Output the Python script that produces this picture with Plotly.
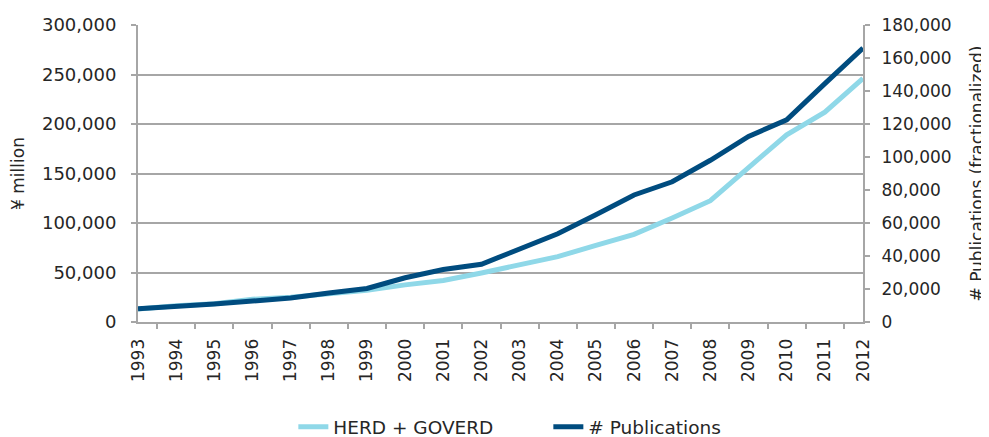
import plotly.graph_objects as go

years = [str(y) for y in range(1993, 2013)]
herd_goverd = [13000, 16500, 18500, 23000, 25000, 28000, 32000, 37500, 42000, 49500,
               57500, 66000, 77500, 88500, 105000, 122500, 156000, 189000, 212000, 246000]
publications = [8000, 9200, 10900, 12700, 14500, 17600, 20300, 26800, 31800, 35000,
                44000, 53500, 65000, 77000, 85000, 98000, 112500, 122500, 144500, 166000]

left_ticks = [0, 50000, 100000, 150000, 200000, 250000, 300000]
right_ticks = list(range(0, 180001, 20000))

font_family = "DejaVu Sans, sans-serif"
grid_col = "#a6a6a6"
text_col = "#262626"

fig = go.Figure()
fig.add_trace(go.Scatter(x=years, y=herd_goverd, name="HERD + GOVERD", mode="lines",
                         line=dict(color="#8fd8e8", width=5), yaxis="y"))
fig.add_trace(go.Scatter(x=years, y=publications, name="# Publications", mode="lines",
                         line=dict(color="#004c7f", width=5), yaxis="y2"))

fig.update_layout(
    width=981, height=429,
    margin=dict(l=130, r=126, t=17, b=115, autoexpand=False),
    paper_bgcolor="white", plot_bgcolor="white",
    font=dict(family=font_family, size=17, color=text_col),
    showlegend=True,
    legend=dict(orientation="h", x=0.566, xanchor="center", xref="paper",
                y=0.023, yanchor="middle", yref="container", font=dict(size=18.5),
                entrywidth=210, traceorder="normal"),
    xaxis=dict(type="category", tickangle=-90, showgrid=False, automargin=False,
               showline=True, linecolor=grid_col, linewidth=2,
               ticks="outside", tickson="boundaries", ticklen=5, tickcolor=grid_col,
               tickwidth=2, tickfont=dict(size=17), ticklabelstandoff=8),
    yaxis=dict(range=[0, 300000], tickvals=left_ticks, tickformat=",d", automargin=False,
               showgrid=True, gridcolor=grid_col, gridwidth=2,
               showline=True, linecolor=grid_col, linewidth=2,
               ticks="outside", ticklen=5, tickcolor=grid_col, tickwidth=2,
               ticklabelstandoff=11, zeroline=False, tickfont=dict(size=18),
               title=dict(text="¥ million", font=dict(size=17), standoff=17)),
    yaxis2=dict(range=[0, 180000], tickvals=right_ticks, tickformat=",d", automargin=False,
                overlaying="y", side="right", showgrid=False,
                showline=True, linecolor=grid_col, linewidth=2,
                ticks="outside", ticklen=5, tickcolor=grid_col, tickwidth=2,
                ticklabelstandoff=8, zeroline=False, tickfont=dict(size=17)),
    annotations=[dict(text="# Publications (fractionalized)", xref="paper", yref="paper",
                      x=1, y=0.5, xshift=113, xanchor="center", yanchor="middle",
                      textangle=-90, showarrow=False, font=dict(size=17, color=text_col))],
)

fig.write_html("out.html")
